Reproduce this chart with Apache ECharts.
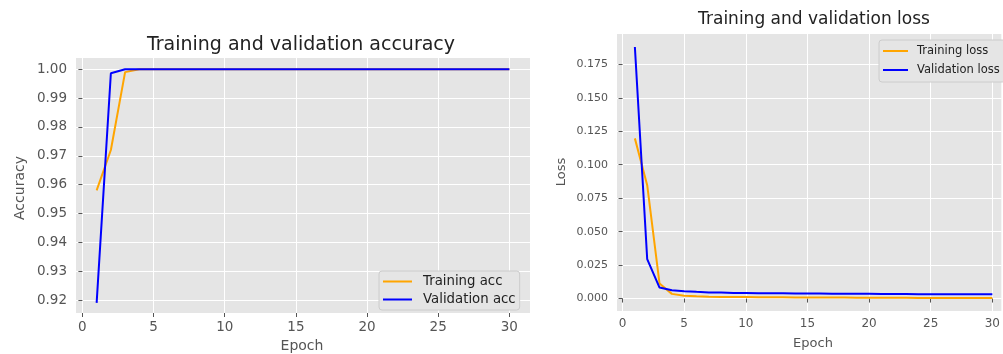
<!DOCTYPE html>
<html>
<head>
<meta charset="utf-8">
<script src="https://cdn.jsdelivr.net/npm/echarts@6/dist/echarts.min.js"></script>
<style>
html,body{margin:0;padding:0;background:#fff;}
#c{width:1003px;height:354px;}
</style>
</head>
<body>
<div id="c"></div>
<script>
var epochs = [1,2,3,4,5,6,7,8,9,10,11,12,13,14,15,16,17,18,19,20,21,22,23,24,25,26,27,28,29,30];
var trainAcc = [0.958,0.972,0.999,1.0,1.0,1.0,1.0,1.0,1.0,1.0,1.0,1.0,1.0,1.0,1.0,1.0,1.0,1.0,1.0,1.0,1.0,1.0,1.0,1.0,1.0,1.0,1.0,1.0,1.0,1.0];
var valAcc = [0.919,0.9986,1.0,1.0,1.0,1.0,1.0,1.0,1.0,1.0,1.0,1.0,1.0,1.0,1.0,1.0,1.0,1.0,1.0,1.0,1.0,1.0,1.0,1.0,1.0,1.0,1.0,1.0,1.0,1.0];
var trainLoss = [0.1197,0.0847,0.0112,0.0035,0.0021,0.0017,0.0014,0.0012,0.0011,0.0011,0.0010,0.0009,0.0009,0.0008,0.0008,0.0007,0.0007,0.0007,0.0006,0.0006,0.0006,0.0006,0.0006,0.0005,0.0005,0.0005,0.0005,0.0005,0.0005,0.0005];
var valLoss = [0.188,0.0294,0.0082,0.0062,0.0055,0.0050,0.0046,0.0045,0.0042,0.0041,0.0040,0.0040,0.0039,0.0038,0.0038,0.0037,0.0036,0.0036,0.0035,0.0035,0.0034,0.0034,0.0034,0.0033,0.0033,0.0033,0.0033,0.0032,0.0032,0.0033];
var xTicks = [0,5,10,15,20,25,30];
var accTicks = [0.92,0.93,0.94,0.95,0.96,0.97,0.98,0.99,1.00];
var lossTicks = [0,0.025,0.05,0.075,0.1,0.125,0.15,0.175];

function pairs(xs, ys){ return xs.map(function(x,i){return [x, ys[i]];}); }

var FONT = 'DejaVu Sans';
var chart = echarts.init(document.getElementById('c'), null, {renderer:'canvas'});

function xAxisCfg(gi, mx, fs){
  return {
    type:'value', gridIndex:gi, min:-0.45, max:mx,
    axisLine:{show:false},
    axisTick:{show:true, length:4, lineStyle:{color:'#555'}, customValues:xTicks},
    axisLabel:{color:'#555', fontFamily:FONT, fontSize:fs, margin:7, customValues:xTicks},
    splitLine:{show:true, lineStyle:{color:'#fff', width:1}}
  };
}
function yAxisCfg(gi, mn, mx, ticks, dec, fs){
  return {
    type:'value', gridIndex:gi, min:mn, max:mx,
    axisLine:{show:false},
    axisTick:{show:true, length:4, lineStyle:{color:'#555'}, customValues:ticks},
    axisLabel:{color:'#555', fontFamily:FONT, fontSize:fs, margin:9, customValues:ticks,
      formatter:function(v){return v.toFixed(dec);}},
    splitLine:{show:true, lineStyle:{color:'#fff', width:1}}
  };
}
function lineSeries(name, xi, data, color){
  return {
    type:'line', name:name, xAxisIndex:xi, yAxisIndex:xi, data:data,
    showSymbol:false, symbol:'none', lineStyle:{color:color, width:2}, itemStyle:{color:color},
    animation:false
  };
}

chart.setOption({
  animation:false,
  grid:[
    {left:76, top:58, width:454, height:255, show:true, backgroundColor:'#E5E5E5', borderWidth:0},
    {left:617, top:34, width:386, height:277, show:true, backgroundColor:'#E5E5E5', borderWidth:0}
  ],
  xAxis:[xAxisCfg(0,31.45,13.5), xAxisCfg(1,30.73,12)],
  yAxis:[
    yAxisCfg(0, 0.9155, 1.0039, accTicks, 2, 13.5),
    yAxisCfg(1, -0.0093, 0.1977, lossTicks, 3, 11)
  ],
  legend:[
    {data:['Training acc','Validation acc'], orient:'vertical', left:379, top:271,
     icon:'rect', itemWidth:29, itemHeight:2, itemGap:5,
     backgroundColor:'#E5E5E5', borderColor:'#CCCCCC', borderWidth:1, borderRadius:3,
     padding:[4,4,4,4], textStyle:{color:'#222', fontFamily:FONT, fontSize:13.3, padding:[0,0,0,6]}},
    {data:['Training loss','Validation loss'], orient:'vertical', left:879, top:40,
     icon:'rect', itemWidth:25, itemHeight:2, itemGap:7,
     backgroundColor:'#E5E5E5', borderColor:'#CCCCCC', borderWidth:1, borderRadius:3,
     padding:[5,6,6,4], textStyle:{color:'#222', fontFamily:FONT, fontSize:11.5, padding:[0,0,0,4]}}
  ],
  series:[
    lineSeries('Training acc', 0, pairs(epochs, trainAcc), '#FFA500'),
    lineSeries('Validation acc', 0, pairs(epochs, valAcc), '#0000FF'),
    lineSeries('Training loss', 1, pairs(epochs, trainLoss), '#FFA500'),
    lineSeries('Validation loss', 1, pairs(epochs, valLoss), '#0000FF')
  ],
  graphic:[
    {type:'text', x:301, y:45, style:{text:'Training and validation accuracy', fill:'#222', font:'19px "DejaVu Sans"', textAlign:'center', textVerticalAlign:'middle'}},
    {type:'text', x:814, y:20, style:{text:'Training and validation loss', fill:'#222', font:'17px "DejaVu Sans"', textAlign:'center', textVerticalAlign:'middle'}},
    {type:'text', x:20, y:188, rotation:Math.PI/2, style:{text:'Accuracy', fill:'#555', font:'14px "DejaVu Sans"', textAlign:'center', textVerticalAlign:'middle'}},
    {type:'text', x:302, y:346, style:{text:'Epoch', fill:'#555', font:'14px "DejaVu Sans"', textAlign:'center', textVerticalAlign:'middle'}},
    {type:'text', x:562, y:172, rotation:Math.PI/2, style:{text:'Loss', fill:'#555', font:'13px "DejaVu Sans"', textAlign:'center', textVerticalAlign:'middle'}},
    {type:'text', x:813, y:344, style:{text:'Epoch', fill:'#555', font:'13px "DejaVu Sans"', textAlign:'center', textVerticalAlign:'middle'}}
  ]
});
</script>
</body>
</html>
